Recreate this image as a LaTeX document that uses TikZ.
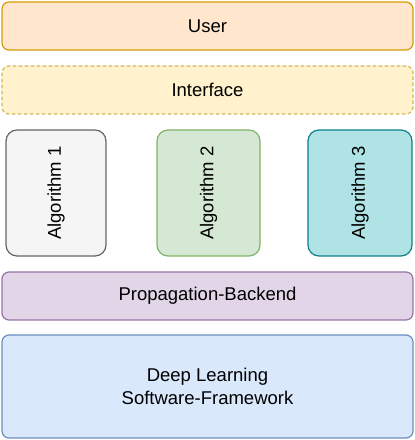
\documentclass[tikz,border=0pt]{standalone}
\usepackage{fontspec}
\setmainfont{Liberation Sans}
\usetikzlibrary{arrows}

\definecolor{userfill}{HTML}{FFE6CC}
\definecolor{userline}{HTML}{D79B00}
\definecolor{intffill}{HTML}{FFF2CC}
\definecolor{intfline}{HTML}{D6B656}
\definecolor{algafill}{HTML}{F5F5F5}
\definecolor{algaline}{HTML}{666666}
\definecolor{algbfill}{HTML}{D5E8D4}
\definecolor{algbline}{HTML}{82B366}
\definecolor{algcfill}{HTML}{B0E3E6}
\definecolor{algcline}{HTML}{0E8088}
\definecolor{propfill}{HTML}{E1D5E7}
\definecolor{propline}{HTML}{9673A6}
\definecolor{dlfill}{HTML}{DAE8FC}
\definecolor{dlline}{HTML}{6C8EBF}

\begin{document}
\begin{tikzpicture}[line cap=round,line join=round,x=1pt,y=1pt,
    layer/.style={rectangle,rounded corners=7pt,line width=1.2pt,minimum width=411pt,minimum height=48pt,inner sep=0pt,align=center,font=\fontsize{18.5}{22.5}\selectfont},
    algo/.style={rectangle,rounded corners=11pt,line width=1.2pt,minimum width=102pt,minimum height=126pt,inner sep=0pt,font=\fontsize{18.5}{22.5}\selectfont}]

    \useasboundingbox (0,0) rectangle (415,440);

    % Top layers
    \node[layer,draw=userline,fill=userfill] (U) at (207.5,414) {User};
    \node[layer,draw=intfline,fill=intffill,dashed] (I) at (207.5,350) {Interface};
    % Algorithms
    \node[algo,draw=algaline,fill=algafill,minimum width=100pt] (A1) at (56,247) {\rotatebox{90}{Algorithm 1}};
    \node[algo,draw=algbline,fill=algbfill,minimum width=103pt] (A2) at (208.5,247) {\rotatebox{90}{Algorithm 2}};
    \node[algo,draw=algcline,fill=algcfill,minimum width=104pt] (A3) at (360,247) {\rotatebox{90}{Algorithm 3}};
    % Bottom layers
    \node[layer,draw=propline,fill=propfill] (P) at (207.5,144) {Propagation-Backend};
    \node[layer,draw=dlline,fill=dlfill,minimum height=103pt] (D) at (207.5,53.5) {Deep Learning\\Software-Framework};
\end{tikzpicture}
\end{document}
